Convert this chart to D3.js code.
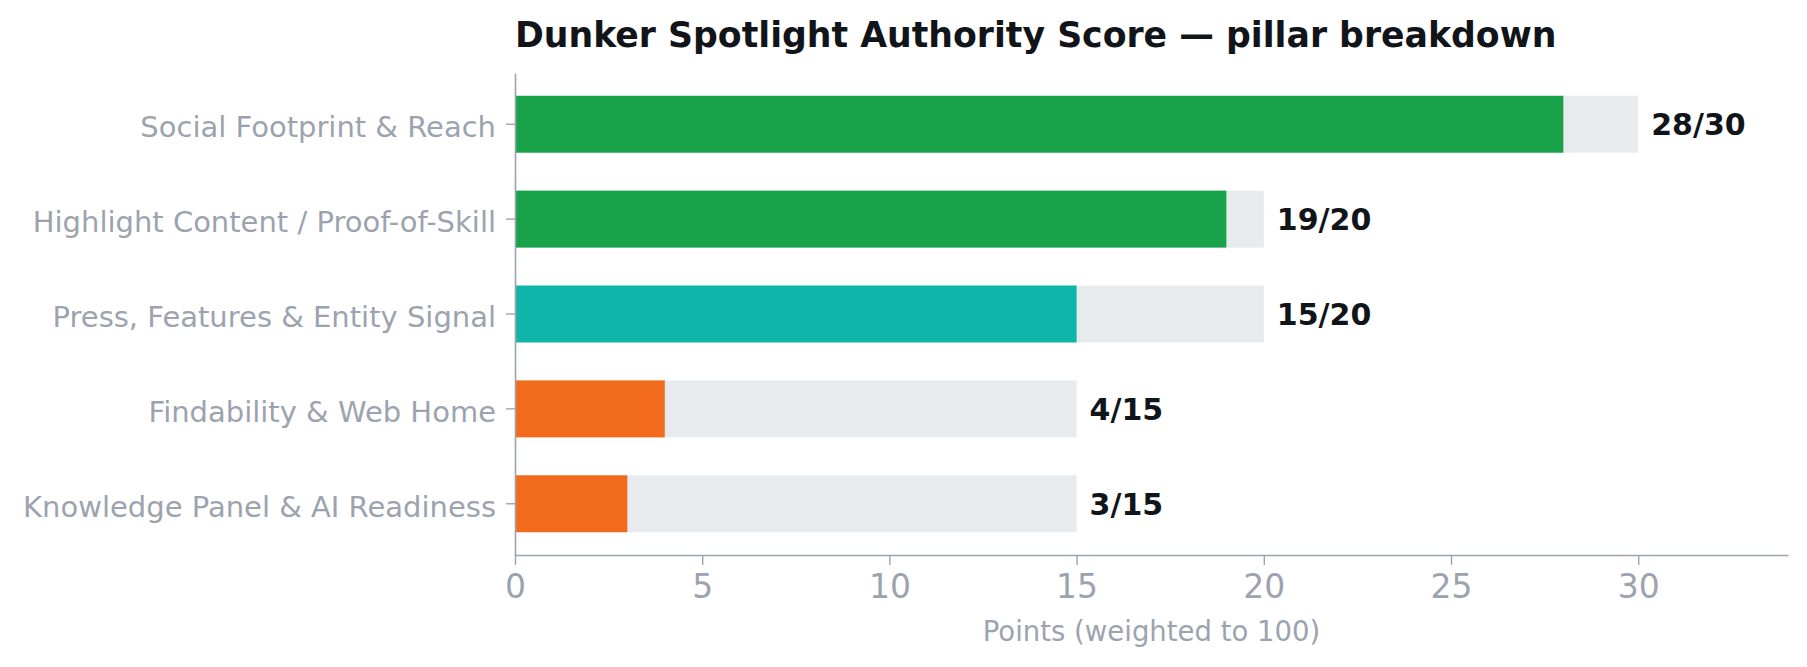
<!DOCTYPE html>
<html>
<head>
<meta charset="utf-8">
<script src="https://cdn.jsdelivr.net/npm/d3@7"></script>
<style>
  body { margin: 0; background: #fff; }
  svg { display: block; font-family: "DejaVu Sans", sans-serif; }
</style>
</head>
<body>
<svg id="chart"></svg>
<script>
// pillars, top to bottom
const pillars = [
    "Social Footprint & Reach",
    "Highlight Content / Proof-of-Skill",
    "Press, Features & Entity Signal",
    "Findability & Web Home",
    "Knowledge Panel & AI Readiness"
];
const scores = [28, 19, 15, 4, 3];
const maxPoints = [30, 20, 20, 15, 15];
const barColors = ["#18a34a", "#18a34a", "#10b5a9", "#f26a1c", "#f26a1c"];
const xTicks = [0, 5, 10, 15, 20, 25, 30];

const width = 1807;
const height = 667;
const margin = { top: 73, right: 19, bottom: 112, left: 515 };

const svg = d3.select("#chart")
    .attr("width", width)
    .attr("height", height);

const x = d3.scaleLinear()
    .domain([0, 34])
    .range([margin.left, width - margin.right]);

const y = d3.scaleBand()
    .domain(pillars)
    .range([margin.top, height - margin.bottom])
    .paddingInner(0.4)
    .paddingOuter(0.24);

const axisColor = "#9ca3af";

// background (max) bars
svg.append("g")
    .selectAll("rect")
    .data(pillars)
    .enter()
    .append("rect")
    .attr("x", x(0))
    .attr("y", d => y(d))
    .attr("width", (d, i) => x(maxPoints[i]) - x(0))
    .attr("height", y.bandwidth())
    .attr("fill", "#e8ebee");

// score bars
svg.append("g")
    .selectAll("rect")
    .data(pillars)
    .enter()
    .append("rect")
    .attr("x", x(0))
    .attr("y", d => y(d))
    .attr("width", (d, i) => x(scores[i]) - x(0))
    .attr("height", y.bandwidth())
    .attr("fill", (d, i) => barColors[i]);

// value labels
svg.append("g")
    .selectAll("text")
    .data(pillars)
    .enter()
    .append("text")
    .attr("x", (d, i) => x(maxPoints[i]) + 13)
    .attr("y", d => y(d) + y.bandwidth() / 2)
    .attr("dy", "0.36em")
    .attr("font-size", 30)
    .attr("font-weight", "bold")
    .attr("fill", "#111418")
    .text((d, i) => scores[i] + "/" + maxPoints[i]);

// x axis
const xAxis = svg.append("g")
    .attr("transform", "translate(0," + (height - margin.bottom) + ")")
    .call(d3.axisBottom(x).tickValues(xTicks).tickSize(10).tickPadding(10).tickSizeOuter(0));

xAxis.select(".domain").attr("stroke", axisColor).attr("stroke-width", 1.6);
xAxis.selectAll(".tick line").attr("stroke", axisColor).attr("stroke-width", 1.4);
xAxis.selectAll(".tick text")
    .attr("fill", axisColor)
    .attr("font-size", 33)
    .attr("font-family", "DejaVu Sans");

// y axis
const yAxis = svg.append("g")
    .attr("transform", "translate(" + margin.left + ",0)")
    .call(d3.axisLeft(y).tickSize(9).tickPadding(10).tickSizeOuter(0));

yAxis.select(".domain").attr("stroke", axisColor).attr("stroke-width", 1.6);
yAxis.selectAll(".tick line").attr("stroke", axisColor).attr("stroke-width", 1.4);
yAxis.selectAll(".tick text")
    .attr("fill", axisColor)
    .attr("font-size", 29)
    .attr("dy", "0.44em")
    .attr("font-family", "DejaVu Sans");

// x axis label
svg.append("text")
    .attr("x", (x(0) + x(34)) / 2)
    .attr("y", 641)
    .attr("text-anchor", "middle")
    .attr("font-size", 27.5)
    .attr("fill", axisColor)
    .text("Points (weighted to 100)");

// title
svg.append("text")
    .attr("x", margin.left)
    .attr("y", 47)
    .attr("font-size", 34.7)
    .attr("font-weight", "bold")
    .attr("fill", "#111418")
    .text("Dunker Spotlight Authority Score \u2014 pillar breakdown");
</script>
</body>
</html>
